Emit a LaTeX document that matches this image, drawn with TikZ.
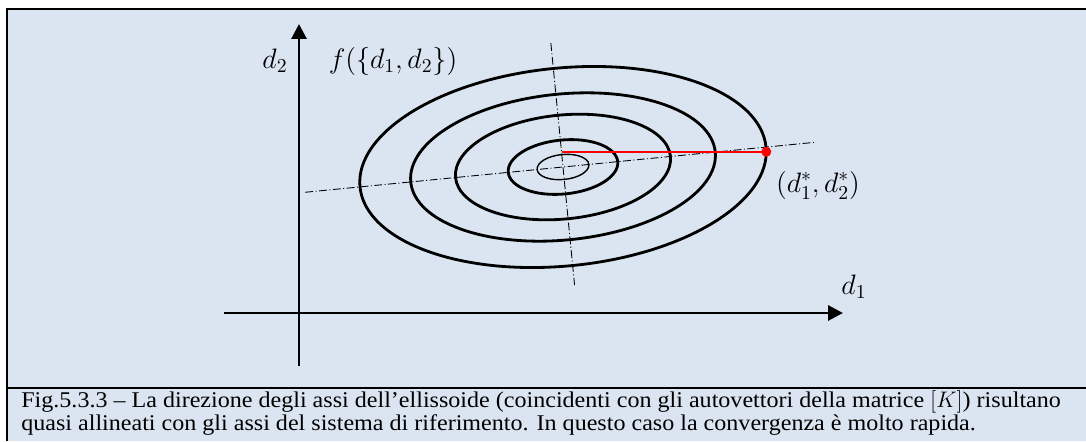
\RequirePackage{fix-cm}
\documentclass[tikz,border=0pt]{standalone}
\usepackage{amsmath}
\usepackage{fontspec}
\setmainfont{Liberation Serif}
\newfontfamily\capfont{Liberation Serif}[FakeStretch=1.07]
\usetikzlibrary{arrows.meta,positioning,calc}
\definecolor{panelblue}{RGB}{219,229,241}

\begin{document}
\begin{tikzpicture}[x=0.02cm, y=0.02cm,
    axis/.style={line width=1.7pt, -{Triangle[length=8.5pt,width=8.5pt]}},
    level/.style={line width=1.6pt},
    eigaxis/.style={line width=0.5pt, dash pattern=on 4.5pt off 1.4pt on 0.6pt off 1.4pt},
    lbl/.style={font=\fontsize{16}{18}\selectfont, inner sep=0pt},
    captext/.style={font=\capfont\fontsize{12.8}{14}\selectfont, inner sep=0pt, anchor=base west}]
    \useasboundingbox (0,0) rectangle (1086,441);

    % Panel and frame
    \fill[panelblue] (7,0) rectangle (1086,432);
    \draw[line width=1.5pt] (7,0) -- (7,432) -- (1086,432);
    \draw[line width=1pt] (7,53) -- (1086,53);

    % Axes
    \coordinate (xstart) at (224,128);
    \coordinate (xend) at (843,128);
    \coordinate (ystart) at (299,75);
    \coordinate (yend) at (299,417);
    \draw[axis] (xstart) -- (xend);
    \draw[axis] (ystart) -- (yend);

    % Principal directions of the ellipses
    \coordinate (C) at (563,274);
    \coordinate (majL) at ($(C)+(185.6:259)$);
    \coordinate (majR) at ($(C)+(5.6:254)$);
    \coordinate (minT) at ($(C)+(95.6:124.6)$);
    \coordinate (minB) at ($(C)+(-84.4:118.6)$);
    \draw[eigaxis] (majL) -- (majR);
    \draw[eigaxis] (minT) -- (minB);

    % Level curves
    \draw[line width=0.8pt] (C) ellipse [x radius=26, y radius=12.5, rotate=5.6];
    \foreach \a/\b in {55/27, 108/52, 153/73, 204/99}
        \draw[level] (C) ellipse [x radius=\a, y radius=\b, rotate=5.6];

    % Optimum point
    \coordinate (P) at (766.3,289.2);
    \coordinate (Q) at (561.5,289.2);
    \draw[red, line width=0.9pt] (Q) -- (P);
    \fill[red] (P) circle [radius=5];

    % Labels
    \node[lbl, anchor=base] (d2lbl) at (275,373) {$d_2$};
    \node[lbl, anchor=base] (flbl) at (393,373) {$f(\{d_1,d_2\})$};
    \node[lbl, anchor=base] (d1lbl) at (854,147) {$d_1$};
    \node[lbl, anchor=base] (plbl) at (818,249) {$(d_1^*,d_2^*)$};

    % Caption
    \node[captext] (cap1) at (21,34) {Fig.5.3.3 – La direzione degli assi dell’ellissoide (coincidenti con gli autovettori della matrice $[K]$) risultano};
    \node[captext] (cap2) at (21,11) {quasi allineati con gli assi del sistema di riferimento. In questo caso la convergenza è molto rapida.};
\end{tikzpicture}
\end{document}
